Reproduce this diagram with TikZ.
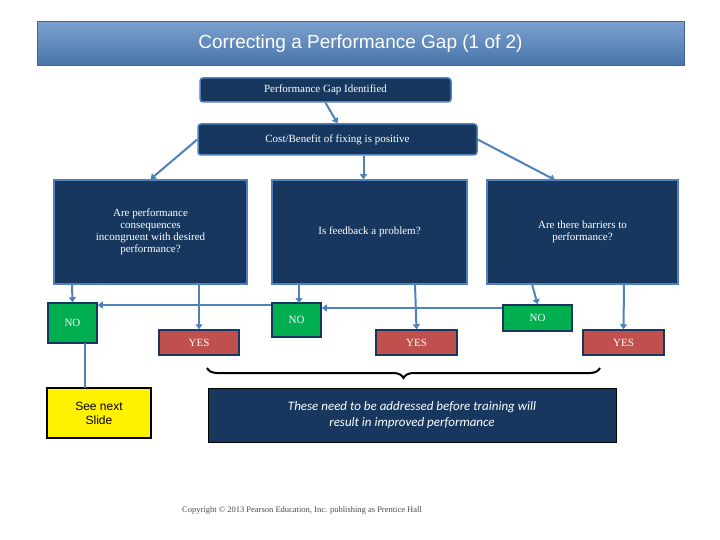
\documentclass[tikz,border=0pt]{standalone}
\usepackage{fontspec}
\setmainfont{Liberation Serif}
\newfontfamily\arialf{Liberation Sans}
\newfontfamily\calf{Carlito}
\usetikzlibrary{arrows.meta,decorations.pathreplacing}
\definecolor{navy}{RGB}{23,55,94}
\definecolor{edge}{RGB}{79,129,189}
\definecolor{gr}{RGB}{0,176,80}
\definecolor{rd}{RGB}{192,80,77}
\begin{document}
\begin{tikzpicture}[x=1pt,y=-1pt,
  qbox/.style={draw=edge,line width=1.5pt,fill=navy,text=white,align=center,inner sep=0pt,font=\fontsize{11}{12}\selectfont},
  nobox/.style={draw=navy,line width=1.5pt,fill=gr,text=white,inner sep=0pt,font=\fontsize{11}{12}\selectfont},
  yesbox/.style={draw=navy,line width=1.5pt,fill=rd,text=white,inner sep=0pt,font=\fontsize{11}{12}\selectfont},
  arr/.style={draw=edge,line width=2pt,-{Triangle[width=7pt,length=5pt]}}]
\useasboundingbox (0,0) rectangle (720,540);
\fill[white] (0,0) rectangle (720,540);
\node[draw=edge!80!black,line width=1pt,top color=edge!75!white,bottom color=edge!90!black,minimum width=647,minimum height=44,inner sep=0pt,text=white,font=\arialf\fontsize{19}{22}\selectfont] (title) at (360.5,44) {Correcting a Performance Gap (1 of 2)};
\node[qbox,rounded corners=3pt,minimum width=251,minimum height=24] (b1) at (325.5,90) {Performance Gap Identified};
\node[qbox,rounded corners=3pt,minimum width=279,minimum height=31] (b2) at (337.5,139.5) {Cost/Benefit of fixing is positive};
\node[qbox,minimum width=193,minimum height=104] (qa) at (150.5,232) {Are performance\\consequences\\incongruent with desired\\performance?};
\node[qbox,minimum width=195,minimum height=104] (qb) at (369.5,232) {Is feedback a problem?};
\node[qbox,minimum width=191,minimum height=104] (qc) at (582.5,232) {Are there barriers to\\performance?};
\node[nobox,minimum width=49,minimum height=40] (no1) at (72.5,323) {NO};
\node[yesbox,minimum width=80,minimum height=25] (y1) at (199,342.5) {YES};
\node[nobox,minimum width=49,minimum height=34] (no2) at (296.5,320) {NO};
\node[yesbox,minimum width=81,minimum height=25] (y2) at (416.5,342.5) {YES};
\node[nobox,minimum width=69,minimum height=26] (no3) at (537.5,318) {NO};
\node[yesbox,minimum width=81,minimum height=25] (y3) at (623.5,342.5) {YES};
\node[draw=black,line width=1.2pt,fill=yellow,minimum width=104,minimum height=50,inner sep=0pt,align=center,font=\arialf\fontsize{12}{14}\selectfont] (see) at (99,413) {See next\\Slide};
\node[draw=black,line width=0.6pt,fill=navy,text=white,minimum width=408,minimum height=54,inner sep=0pt,align=center,font=\calf\itshape\fontsize{13}{16}\selectfont] (note) at (412,415) {These need to be addressed before training will\\result in improved performance};
\node[text=black!70,font=\fontsize{8.5}{10}\selectfont] (copy) at (302,510) {Copyright \textcopyright{} 2013 Pearson Education, Inc. publishing as Prentice Hall};
\draw[arr] (b1.south) -- (b2.north);
\draw[arr] (b2.west) -- (qa.north);
\draw[arr] (b2.south -| qb.north) ++(-6,0) coordinate (c) -- (c |- qb.north);
\draw[arr] (b2.east) -- (555,180);
\draw[arr] (72,284) -- (no1.north);
\draw[arr] (199,284) -- (y1.north);
\draw[arr] (299,284) -- (299,303);
\draw[arr] (415,284) -- (y2.north);
\draw[arr] (532,284) -- (no3.north);
\draw[arr] (624,284) -- (y3.north);
\draw[arr] (no3.west |- 0,308) -- (no2.east |- 0,308);
\draw[arr] (no2.west |- 0,305) -- (no1.east |- 0,305);
\draw[edge,line width=2pt] (85,343) -- (85,388);
\draw[line width=2pt,decorate,decoration={brace,amplitude=10pt,mirror}] (207,368) -- (600,368);
\end{tikzpicture}
\end{document}
